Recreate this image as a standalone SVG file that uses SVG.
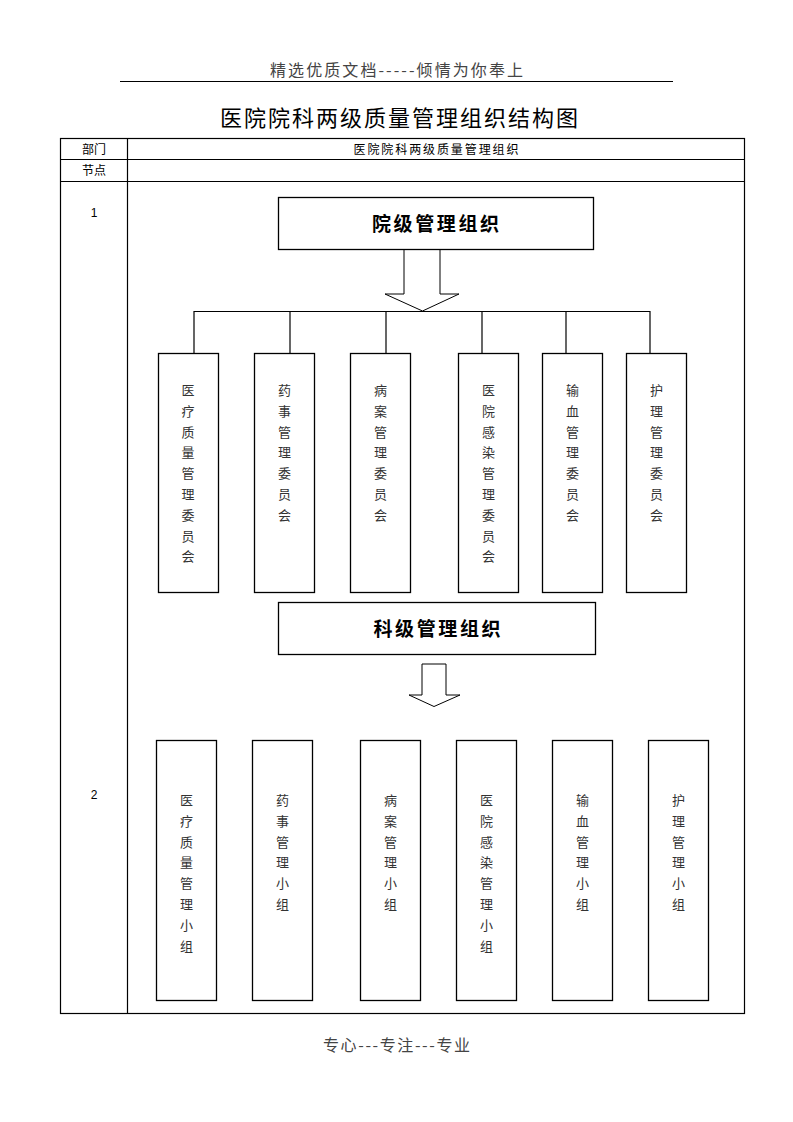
<svg xmlns="http://www.w3.org/2000/svg" width="793" height="1122" viewBox="0 0 793 1122">
<style>
.ln{stroke:#000;stroke-width:1.2;fill:none}
.bx{stroke:#000;stroke-width:1.3;fill:#fff}
.cj{font-family:"Noto Sans CJK SC","Liberation Sans",sans-serif;fill:#000}
.vt{font-size:13px;fill:#333}
.hd{font-size:16px;fill:#444}
.bt{font-size:19px;font-weight:bold}
.arr{stroke:#000;stroke-width:1;fill:#fff}
</style>
<rect width="793" height="1122" fill="#fff"/>
<g id="page-header">
<text class="cj hd" x="396.5" y="76" text-anchor="middle" textLength="253" lengthAdjust="spacing">精选优质文档-----倾情为你奉上</text>
<line x1="120" y1="81.5" x2="673" y2="81.5" stroke="#000" stroke-width="1"/>
</g>
<g id="title">
<text class="cj" x="399" y="126" font-size="22" text-anchor="middle" textLength="358" lengthAdjust="spacing">医院院科两级质量管理组织结构图</text>
</g>
<g id="table">
<rect x="60.5" y="138.5" width="684" height="875" class="ln"/>
<line x1="127.5" y1="138.5" x2="127.5" y2="1013.5" class="ln"/>
<line x1="60.5" y1="159.5" x2="744.5" y2="159.5" class="ln"/>
<line x1="60.5" y1="181.5" x2="744.5" y2="181.5" class="ln"/>
<text class="cj" x="94" y="153.5" font-size="12" text-anchor="middle">部门</text>
<text class="cj" x="94" y="175" font-size="12" text-anchor="middle">节点</text>
<text class="cj" x="436" y="153.5" font-size="12" text-anchor="middle" textLength="165" lengthAdjust="spacing">医院院科两级质量管理组织</text>
<text x="94" y="217" font-family="Liberation Sans,sans-serif" font-size="12" text-anchor="middle">1</text>
<text x="94" y="799" font-family="Liberation Sans,sans-serif" font-size="12" text-anchor="middle">2</text>
</g>
<g id="connectors">
<polygon class="arr" points="404,249 440,249 440,294 459,294 422.5,311 385,294 404,294"/>
<polyline class="ln" points="194,353 194,311.5 650,311.5 650,353"/>
<line class="ln" x1="290" y1="311.5" x2="290" y2="353"/>
<line class="ln" x1="386" y1="311.5" x2="386" y2="353"/>
<line class="ln" x1="482" y1="311.5" x2="482" y2="353"/>
<line class="ln" x1="566" y1="311.5" x2="566" y2="353"/>
<polygon class="arr" points="422,664 446,664 446,695 460,695 434,706.5 409,695 422,695"/>
</g>
<g id="hospital-level">
<rect class="bx" x="278.5" y="197.5" width="315" height="52"/>
<text class="cj bt" x="435.5" y="231" text-anchor="middle" textLength="127" lengthAdjust="spacing">院级管理组织</text>
</g>
<g id="h1">
<rect class="bx" x="158.5" y="353.5" width="60" height="239"/>
<text class="cj vt" text-anchor="middle"><tspan x="188" y="395">医</tspan><tspan x="188" dy="20.8">疗</tspan><tspan x="188" dy="20.8">质</tspan><tspan x="188" dy="20.8">量</tspan><tspan x="188" dy="20.8">管</tspan><tspan x="188" dy="20.8">理</tspan><tspan x="188" dy="20.8">委</tspan><tspan x="188" dy="20.8">员</tspan><tspan x="188" dy="20.8">会</tspan></text>
</g>
<g id="h2">
<rect class="bx" x="254.5" y="353.5" width="60" height="239"/>
<text class="cj vt" text-anchor="middle"><tspan x="284.5" y="395">药</tspan><tspan x="284.5" dy="20.8">事</tspan><tspan x="284.5" dy="20.8">管</tspan><tspan x="284.5" dy="20.8">理</tspan><tspan x="284.5" dy="20.8">委</tspan><tspan x="284.5" dy="20.8">员</tspan><tspan x="284.5" dy="20.8">会</tspan></text>
</g>
<g id="h3">
<rect class="bx" x="350.5" y="353.5" width="60" height="239"/>
<text class="cj vt" text-anchor="middle"><tspan x="380.5" y="395">病</tspan><tspan x="380.5" dy="20.8">案</tspan><tspan x="380.5" dy="20.8">管</tspan><tspan x="380.5" dy="20.8">理</tspan><tspan x="380.5" dy="20.8">委</tspan><tspan x="380.5" dy="20.8">员</tspan><tspan x="380.5" dy="20.8">会</tspan></text>
</g>
<g id="h4">
<rect class="bx" x="458.5" y="353.5" width="60" height="239"/>
<text class="cj vt" text-anchor="middle"><tspan x="488.5" y="395">医</tspan><tspan x="488.5" dy="20.8">院</tspan><tspan x="488.5" dy="20.8">感</tspan><tspan x="488.5" dy="20.8">染</tspan><tspan x="488.5" dy="20.8">管</tspan><tspan x="488.5" dy="20.8">理</tspan><tspan x="488.5" dy="20.8">委</tspan><tspan x="488.5" dy="20.8">员</tspan><tspan x="488.5" dy="20.8">会</tspan></text>
</g>
<g id="h5">
<rect class="bx" x="542.5" y="353.5" width="60" height="239"/>
<text class="cj vt" text-anchor="middle"><tspan x="572.5" y="395">输</tspan><tspan x="572.5" dy="20.8">血</tspan><tspan x="572.5" dy="20.8">管</tspan><tspan x="572.5" dy="20.8">理</tspan><tspan x="572.5" dy="20.8">委</tspan><tspan x="572.5" dy="20.8">员</tspan><tspan x="572.5" dy="20.8">会</tspan></text>
</g>
<g id="h6">
<rect class="bx" x="626.5" y="353.5" width="60" height="239"/>
<text class="cj vt" text-anchor="middle"><tspan x="656.5" y="395">护</tspan><tspan x="656.5" dy="20.8">理</tspan><tspan x="656.5" dy="20.8">管</tspan><tspan x="656.5" dy="20.8">理</tspan><tspan x="656.5" dy="20.8">委</tspan><tspan x="656.5" dy="20.8">员</tspan><tspan x="656.5" dy="20.8">会</tspan></text>
</g>
<g id="dept-level">
<rect class="bx" x="278.5" y="602.5" width="317" height="52"/>
<text class="cj bt" x="437" y="635.5" text-anchor="middle" textLength="127" lengthAdjust="spacing">科级管理组织</text>
</g>
<g id="d1">
<rect class="bx" x="156.5" y="740.5" width="60" height="260"/>
<text class="cj vt" text-anchor="middle"><tspan x="186.5" y="805">医</tspan><tspan x="186.5" dy="20.8">疗</tspan><tspan x="186.5" dy="20.8">质</tspan><tspan x="186.5" dy="20.8">量</tspan><tspan x="186.5" dy="20.8">管</tspan><tspan x="186.5" dy="20.8">理</tspan><tspan x="186.5" dy="20.8">小</tspan><tspan x="186.5" dy="20.8">组</tspan></text>
</g>
<g id="d2">
<rect class="bx" x="252.5" y="740.5" width="60" height="260"/>
<text class="cj vt" text-anchor="middle"><tspan x="282.5" y="805">药</tspan><tspan x="282.5" dy="20.8">事</tspan><tspan x="282.5" dy="20.8">管</tspan><tspan x="282.5" dy="20.8">理</tspan><tspan x="282.5" dy="20.8">小</tspan><tspan x="282.5" dy="20.8">组</tspan></text>
</g>
<g id="d3">
<rect class="bx" x="360.5" y="740.5" width="60" height="260"/>
<text class="cj vt" text-anchor="middle"><tspan x="390.5" y="805">病</tspan><tspan x="390.5" dy="20.8">案</tspan><tspan x="390.5" dy="20.8">管</tspan><tspan x="390.5" dy="20.8">理</tspan><tspan x="390.5" dy="20.8">小</tspan><tspan x="390.5" dy="20.8">组</tspan></text>
</g>
<g id="d4">
<rect class="bx" x="456.5" y="740.5" width="60" height="260"/>
<text class="cj vt" text-anchor="middle"><tspan x="486.5" y="805">医</tspan><tspan x="486.5" dy="20.8">院</tspan><tspan x="486.5" dy="20.8">感</tspan><tspan x="486.5" dy="20.8">染</tspan><tspan x="486.5" dy="20.8">管</tspan><tspan x="486.5" dy="20.8">理</tspan><tspan x="486.5" dy="20.8">小</tspan><tspan x="486.5" dy="20.8">组</tspan></text>
</g>
<g id="d5">
<rect class="bx" x="552.5" y="740.5" width="60" height="260"/>
<text class="cj vt" text-anchor="middle"><tspan x="582.5" y="805">输</tspan><tspan x="582.5" dy="20.8">血</tspan><tspan x="582.5" dy="20.8">管</tspan><tspan x="582.5" dy="20.8">理</tspan><tspan x="582.5" dy="20.8">小</tspan><tspan x="582.5" dy="20.8">组</tspan></text>
</g>
<g id="d6">
<rect class="bx" x="648.5" y="740.5" width="60" height="260"/>
<text class="cj vt" text-anchor="middle"><tspan x="678.5" y="805">护</tspan><tspan x="678.5" dy="20.8">理</tspan><tspan x="678.5" dy="20.8">管</tspan><tspan x="678.5" dy="20.8">理</tspan><tspan x="678.5" dy="20.8">小</tspan><tspan x="678.5" dy="20.8">组</tspan></text>
</g>
<g id="page-footer">
<text class="cj hd" x="396.5" y="1051" text-anchor="middle" textLength="147" lengthAdjust="spacing">专心---专注---专业</text>
</g>
</svg>
